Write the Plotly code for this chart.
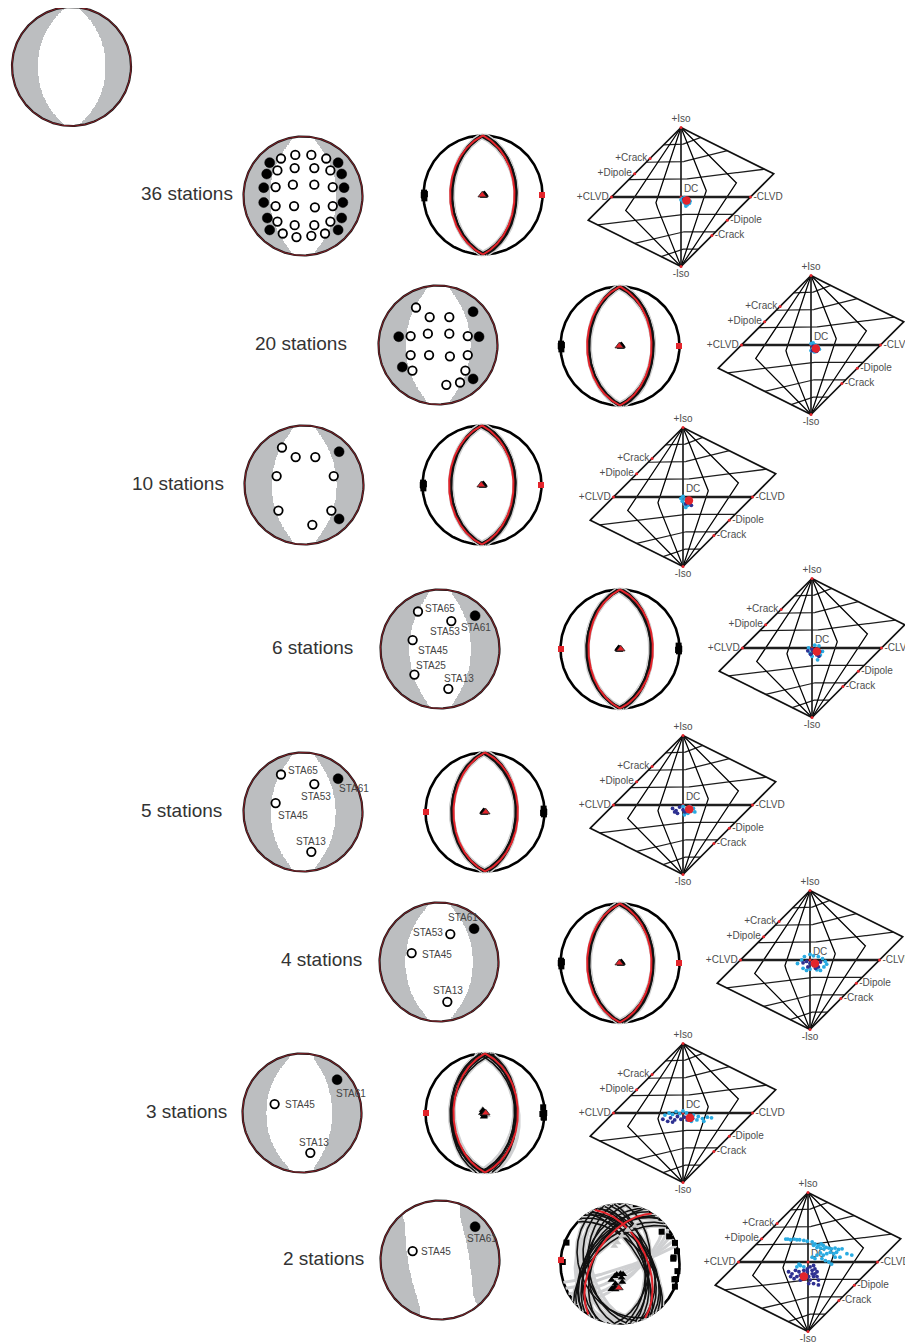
import numpy as np
import plotly.graph_objects as go

W, H = 913, 1344
PAGE = 8  # the page body margin: figure starts 8 px in from the window corner
FW, FH = W - PAGE, H - PAGE

# ---------- stations (equal-area lower hemisphere, unit radius) ----------
STA_NAMES = [
    "STA66", "STA65", "STA64", "STA63", "STA62", "STA61",
    "STA56", "STA55", "STA54", "STA53", "STA52", "STA51",
    "STA46", "STA45", "STA44", "STA43", "STA42", "STA41",
    "STA36", "STA35", "STA34", "STA33", "STA32", "STA31",
    "STA26", "STA25", "STA24", "STA23", "STA22", "STA21",
    "STA16", "STA15", "STA14", "STA13", "STA12", "STA11",
]
STA_X = [
    -0.56, -0.37, -0.13, 0.14, 0.39, 0.59,
    -0.61, -0.43, -0.14, 0.19, 0.46, 0.65,
    -0.66, -0.46, -0.17, 0.19, 0.50, 0.69,
    -0.66, -0.46, -0.15, 0.20, 0.50, 0.67,
    -0.60, -0.43, -0.14, 0.19, 0.46, 0.65,
    -0.56, -0.34, -0.11, 0.14, 0.37, 0.59,
]
STA_Y = [
    0.56, 0.63, 0.69, 0.69, 0.63, 0.56,
    0.37, 0.43, 0.47, 0.47, 0.43, 0.37,
    0.14, 0.15, 0.19, 0.19, 0.15, 0.14,
    -0.11, -0.17, -0.17, -0.19, -0.17, -0.11,
    -0.37, -0.43, -0.49, -0.49, -0.43, -0.37,
    -0.57, -0.63, -0.69, -0.67, -0.63, -0.57,
]
# 1 = compression (filled), 0 = dilatation (open)
STA_POL = [
    1, 0, 0, 0, 0, 1,
    1, 0, 0, 0, 0, 1,
    1, 0, 0, 0, 0, 1,
    1, 0, 0, 0, 0, 1,
    1, 0, 0, 0, 0, 1,
    1, 0, 0, 0, 0, 1,
]

ROW_LABELS = ["36 stations", "20 stations", "10 stations", "6 stations",
              "5 stations", "4 stations", "3 stations", "2 stations"]

ROW_STATIONS = [
    STA_NAMES,
    ["STA65", "STA61", "STA54", "STA53", "STA46", "STA45", "STA44", "STA43", "STA42", "STA41",
     "STA35", "STA34", "STA33", "STA32", "STA26", "STA25", "STA22", "STA11", "STA12", "STA13"],
    ["STA65", "STA54", "STA53", "STA61", "STA45", "STA42", "STA25", "STA22", "STA11", "STA13"],
    ["STA65", "STA53", "STA61", "STA45", "STA25", "STA13"],
    ["STA65", "STA61", "STA53", "STA45", "STA13"],
    ["STA61", "STA53", "STA45", "STA13"],
    ["STA61", "STA45", "STA13"],
    ["STA61", "STA45"],
]

# station-name placement: (anchor, dx px, dy px up)
ROW_NAME_POS = [
    None, None, None,
    {"STA65": ("left", 5, 3), "STA53": ("center", -6, -10), "STA61": ("center", 1, -12),
     "STA45": ("left", 3, -10), "STA25": ("left", 0, 9), "STA13": ("left", -6, 10)},
    {"STA65": ("left", 5, 4), "STA61": ("left", -1, -10), "STA53": ("center", 2, -12),
     "STA45": ("left", 0, -12), "STA13": ("center", 0, 10)},
    {"STA61": ("center", -11, 11), "STA53": ("right", -5, 2), "STA45": ("left", 8, -1),
     "STA13": ("center", 1, 11)},
    {"STA61": ("left", -3, -14), "STA45": ("left", 8, 0), "STA13": ("center", 4, 10)},
    {"STA61": ("center", 7, -12), "STA45": ("left", 6, 0)},
]

# moment tensors (nn, ee, dd, ne, nd, ed) for the shaded beachballs
TRUE_MT = (-0.015, 1.0, -1.19, 0.0, 0.0, 0.0)
ROW_MT = [
    (-0.04, 1.0, -1.10, 0.0, 0.0, 0.0),
    (-0.04, 1.0, -1.00, 0.0, 0.0, 0.0),
    (-0.04, 1.0, -1.00, 0.0, 0.0, 0.0),
    (-0.04, 1.0, -0.85, 0.0, 0.0, 0.0),
    (-0.04, 1.0, -1.00, 0.0, 0.0, 0.0),
    (-0.04, 1.0, -1.15, 0.0, 0.0, 0.0),
    (-0.04, 1.0, -1.06, 0.0, 0.0, 0.16),
    (-0.44, 1.44, -1.23, 0.34, 0.0, 0.10),
]

# focal solutions (strike, dip, rake): red = reference, black = inversions
NODAL_BEST = [(0, 46, -90), (0, 46, -90), (0, 46, -90), (0, 44, -90),
              (0, 44, -90), (0, 46, -90), (0, 44, -90), (335, 53, -133)]
ENS_WEST = [(358, 44, -92), (2, 43, -88), (0, 44.5, -90), (356, 43.5, -91), (3, 44, -89), (1, 42.5, -90)]
ENS_EAST = [(358, 46, -92), (2, 47, -88), (0, 45.5, -90), (356, 46.5, -91), (3, 46, -89), (1, 47.5, -90)]
ENS_3 = [(357, 46, -95), (4, 48, -85), (0, 45.5, -90), (353, 47, -92), (6, 46, -88), (1, 49, -90), (359, 46.5, -97)]
ENS_2 = [(330, 50, -115), (340, 56, -130), (325, 48, -110), (345, 58, -135), (332, 60, -120),
         (350, 52, -138), (320, 52, -105), (338, 46, -125), (355, 55, -120), (315, 58, -100),
         (5, 48, -115), (328, 64, -128)]
NODAL_ENS = [ENS_WEST, ENS_WEST, ENS_WEST, ENS_EAST, ENS_EAST, ENS_WEST, ENS_3, ENS_2]
NODAL_GRAY = [[], [], [], [], [], [], [(350, 43, -95), (8, 49, -84)],
              [(60, 75, -60), (66, 80, -50), (54, 70, -70), (72, 84, -40), (48, 68, -75)]]

# source-type (Hudson u, v) results
HUD_RED_U = [0.08, 0.07, 0.085, 0.07, 0.09, 0.07, 0.10, -0.06]
HUD_RED_V = [-0.05, -0.05, -0.05, -0.05, -0.06, -0.05, -0.07, -0.21]
HUD_CYAN_U = [
    [0.02, 0.05, 0.10, 0.13, 0.06, 0.09, 0.03, 0.12, 0.00, 0.07],
    [0.00, 0.03, 0.06, 0.10, 0.02, 0.05, 0.09, 0.00, 0.12],
    [-0.03, 0.00, 0.03, 0.05, 0.02, 0.07, 0.10, 0.04, 0.08, -0.01],
    [-0.05, 0.10, 0.15, 0.00, 0.08, 0.12, -0.03, 0.04],
    [0.00, 0.05, 0.10, 0.12, 0.07, 0.15, 0.02, 0.17],
    [-0.18, -0.12, -0.08, 0.00, 0.05, 0.12, 0.18, 0.22, 0.20, 0.10, 0.00, -0.10, -0.05, 0.15, 0.24],
    [-0.26, -0.20, -0.15, -0.10, -0.05, 0.00, 0.05, 0.15, 0.22, 0.28, 0.35, 0.41, 0.30, 0.20, 0.12],
    [-0.32, -0.29, -0.25, -0.20, -0.16, -0.12, -0.06, -0.01, 0.06, 0.10, 0.15, 0.19, 0.22, 0.26,
     0.23, 0.18, 0.13, 0.08, 0.30, 0.34, 0.39, 0.44, 0.49, 0.41, 0.37, 0.32, 0.27, 0.22, 0.18,
     0.13, 0.20, 0.25, 0.30, 0.34, 0.39, 0.46, 0.56, 0.63, 0.10, 0.06, -0.13, -0.11, -0.06, -0.16],
]
HUD_CYAN_V = [
    [-0.02, -0.01, -0.03, -0.06, -0.09, -0.11, -0.07, -0.09, -0.04, -0.13],
    [0.02, 0.03, 0.00, -0.02, -0.05, -0.10, -0.08, -0.08, -0.06],
    [-0.02, 0.01, -0.03, -0.08, -0.10, -0.12, -0.10, -0.15, -0.04, -0.06],
    [0.00, 0.03, -0.05, -0.12, -0.17, -0.10, -0.07, 0.04],
    [-0.02, -0.05, -0.02, -0.09, -0.12, -0.05, -0.14, -0.10],
    [-0.05, 0.00, 0.05, 0.08, 0.06, 0.05, 0.02, -0.02, -0.10, -0.14, -0.13, -0.12, -0.15, -0.15, -0.06],
    [-0.03, 0.00, -0.02, 0.02, -0.01, 0.03, 0.00, -0.03, -0.05, -0.08, -0.06, -0.07, -0.12, -0.10, -0.12],
    [0.33, 0.33, 0.32, 0.33, 0.32, 0.32, 0.31, 0.30, 0.29, 0.26, 0.24, 0.26, 0.24, 0.21,
     0.19, 0.20, 0.21, 0.24, 0.20, 0.19, 0.20, 0.18, 0.19, 0.14, 0.12, 0.14, 0.12, 0.10, 0.13,
     0.10, 0.05, 0.02, 0.00, -0.03, 0.07, 0.07, 0.12, 0.10, 0.05, 0.07, -0.03, -0.05, -0.07, -0.07],
]
HUD_NAVY_U = [
    [0.04, 0.08, 0.06, 0.10],
    [0.03, 0.06, 0.02, 0.08, 0.04],
    [0.06, 0.10, 0.12, 0.04],
    [-0.06, 0.00, 0.03, 0.07, 0.11, -0.02, 0.05, 0.10],
    [-0.15, -0.10, -0.05, -0.08, 0.00, 0.03, -0.12],
    [-0.10, -0.05, 0.00, 0.05, 0.10, 0.15, -0.03, 0.08, 0.12],
    [-0.29, -0.22, -0.18, -0.12, -0.08, -0.03, 0.02, 0.06, 0.10, 0.14, -0.15],
    [-0.28, -0.23, -0.18, -0.13, -0.11, -0.06, -0.01, 0.03, 0.08, 0.10, 0.13, 0.06, 0.01, -0.04,
     0.08, 0.13, 0.15, 0.03, 0.01, 0.08, 0.15, -0.16, -0.20, -0.11, -0.25, -0.06, -0.01, 0.10, 0.06],
]
HUD_NAVY_V = [
    [-0.03, -0.02, -0.06, -0.07],
    [-0.02, -0.04, -0.08, -0.09, -0.06],
    [-0.06, -0.08, -0.12, -0.10],
    [-0.04, -0.02, -0.06, -0.10, -0.05, -0.09, -0.02, -0.12],
    [-0.05, -0.08, -0.03, -0.12, -0.07, -0.10, -0.10],
    [-0.04, -0.02, -0.05, -0.08, -0.06, -0.03, -0.10, -0.12, -0.10],
    [-0.09, -0.12, -0.07, -0.10, -0.05, -0.09, -0.06, -0.10, -0.04, -0.08, -0.13],
    [-0.14, -0.17, -0.12, -0.14, -0.19, -0.12, -0.10, -0.07, -0.05, -0.10, -0.14, -0.17, -0.21, -0.21,
     -0.21, -0.21, -0.26, -0.26, -0.31, -0.31, -0.33, -0.21, -0.24, -0.26, -0.21, -0.17, -0.14, -0.17, -0.12],
]

HUD_LABELS = ["+Iso", "-Iso", "+CLVD", "-CLVD", "+Crack", "-Crack", "+Dipole", "-Dipole", "DC"]
HUD_LABEL_U = [0, 0, -1, 1, -4 / 9, 4 / 9, -2 / 3, 2 / 3, 0]
HUD_LABEL_V = [1, -1, 0, 0, 5 / 9, -5 / 9, 1 / 3, -1 / 3, 0]
HUD_LABEL_POS = ["top center", "bottom center", "middle left", "middle right", "middle left",
                 "middle right", "middle left", "middle right", "top right"]
HUD_T_LINES = [-2 / 3, -1 / 3, 1 / 3, 2 / 3]
HUD_K_LINES = [-0.75, -0.5, -0.25, 0.25, 0.5, 0.75]

# ---------- layout (pixel centres in the window) ----------
TRUE_X, TRUE_Y = 71.5, 66.5
ROW_BALL_X = [303, 438, 304, 440, 303, 439, 302, 440]
ROW_BALL_Y = [196, 345, 485, 649, 812, 962, 1113, 1260]
ROW_NODAL_X = [483, 620, 482, 620, 485, 620, 485, 620]
ROW_NODAL_Y = [195, 346, 485, 649, 812, 963, 1113, 1264]
ROW_HUD_X = [681, 811, 683, 812, 683, 810, 683, 808]
ROW_HUD_Y = [197, 345, 497, 648, 805, 960, 1113, 1262]
ROW_LABEL_X = [235, 349, 226, 355, 224, 364, 229, 366]

BALL_R = 59.5
HUD_S = 69.5
GRAY = "#bcbec0"
RED = "#e3242b"
CYAN = "#29abe2"
NAVY = "#2e3192"
LBL = "#4d4d4d"
FONT = "Liberation Sans Narrow, Liberation Sans, Arial"

fig = go.Figure()
_n = [0]


def panel(cx, cy, scale, half_w, half_h):
    _n[0] += 1
    sfx = "" if _n[0] == 1 else str(_n[0])
    cx, cy = cx - PAGE, cy - PAGE
    left, right = max(cx - half_w, 0), min(cx + half_w, FW)
    top, bottom = max(cy - half_h, 0), min(cy + half_h, FH)
    fig.update_layout(**{
        f"xaxis{sfx}": dict(domain=[left / FW, right / FW],
                            range=[(left - cx) / scale, (right - cx) / scale],
                            visible=False, fixedrange=True, anchor=f"y{sfx}"),
        f"yaxis{sfx}": dict(domain=[1 - bottom / FH, 1 - top / FH],
                            range=[(cy - bottom) / scale, (cy - top) / scale],
                            visible=False, fixedrange=True, anchor=f"x{sfx}"),
    })
    return dict(xaxis=f"x{sfx}", yaxis=f"y{sfx}")


def line(ax, xs, ys, color, width):
    fig.add_trace(go.Scatter(x=xs, y=ys, mode="lines", line=dict(color=color, width=width),
                             hoverinfo="skip", **ax))


# ---------- geometry ----------
TH = np.linspace(0, 2 * np.pi, 241)
CIRC_X, CIRC_Y = np.cos(TH), np.sin(TH)
GRID = np.linspace(-1, 1, 201)


def project(v):
    v = v * np.where(v[2] < 0, -1.0, 1.0)
    inc = np.arccos(np.clip(v[2], -1, 1))
    r = np.sqrt(2) * np.sin(inc / 2)
    az = np.arctan2(v[1], v[0])
    return r * np.sin(az), r * np.cos(az)


def sdr_vectors(strike, dip, rake):
    s, d, r = np.radians([strike, dip, rake])
    n = np.array([-np.sin(d) * np.sin(s), np.sin(d) * np.cos(s), -np.cos(d)])
    u = np.array([np.cos(r) * np.cos(s) + np.sin(r) * np.cos(d) * np.sin(s),
                  np.cos(r) * np.sin(s) - np.sin(r) * np.cos(d) * np.cos(s),
                  -np.sin(r) * np.sin(d)])
    return n, u


def great_circle(normal):
    a = np.array([-normal[1], normal[0], 0.0])
    a /= np.linalg.norm(a)
    b = np.cross(normal, a)
    b /= np.linalg.norm(b)
    if b[2] < 0:
        b = -b
    t = np.linspace(0, np.pi, 121)
    v = np.outer(a, np.cos(t)) + np.outer(b, np.sin(t))
    return project(v)


def planes_xy(sols):
    xs, ys = [], []
    for s, d, r in sols:
        n, u = sdr_vectors(s, d, r)
        for vec in (n, u):
            x, y = great_circle(vec)
            xs += x.tolist() + [None]
            ys += y.tolist() + [None]
    return xs, ys


def axes_xy(sols):
    px, py, tx, ty = [], [], [], []
    for s, d, r in sols:
        n, u = sdr_vectors(s, d, r)
        x, y = project(((n - u) / np.sqrt(2)).reshape(3, 1))
        px.append(float(x[0])); py.append(float(y[0]))
        x, y = project(((n + u) / np.sqrt(2)).reshape(3, 1))
        tx.append(float(x[0])); ty.append(float(y[0]))
    return px, py, tx, ty


def polarity_z(mt):
    mnn, mee, mdd, mne, mnd, med = mt
    X, Y = np.meshgrid(GRID, GRID)
    R = np.hypot(X, Y)
    inc = 2 * np.arcsin(np.clip(R / np.sqrt(2), 0, 1))
    az = np.arctan2(X, Y)
    vn, ve, vd = np.sin(inc) * np.cos(az), np.sin(inc) * np.sin(az), np.cos(inc)
    amp = (mnn * vn * vn + mee * ve * ve + mdd * vd * vd
           + 2 * (mne * vn * ve + mnd * vn * vd + med * ve * vd))
    ok = (R <= 1.0) & (amp > 0)
    return [[1 if ok[j, i] else None for i in range(len(GRID))] for j in range(len(GRID))]


def shaded_ball(ax, mt):
    fig.add_trace(go.Heatmap(x=GRID, y=GRID, z=polarity_z(mt), colorscale=[[0, GRAY], [1, GRAY]],
                             showscale=False, hoverinfo="skip", zsmooth=False, **ax))
    line(ax, CIRC_X, CIRC_Y, "#1a1a1a", 2.2)
    line(ax, CIRC_X, CIRC_Y, "#b3202a", 0.7)


def hudson_uv(T, k):
    tau = T * (1 - abs(k))
    if tau * k <= 0:
        return tau, k
    s = 1.0 if k > 0 else -1.0
    t, kk = s * tau, s * k
    d = 1 - t / 2 if t <= 4 * kk else 1 - 2 * kk
    return s * t / d, s * kk / d


def t_line(T):
    pts = [hudson_uv(T, k) for k in np.linspace(-1, 1, 401)]
    return [p[0] for p in pts], [p[1] for p in pts]


def k_line(k):
    pts = [hudson_uv(T, k) for T in np.linspace(-1, 1, 201)]
    return [p[0] for p in pts], [p[1] for p in pts]


# ---------- top-left reference mechanism ----------
shaded_ball(panel(TRUE_X, TRUE_Y, BALL_R, 70, 70), TRUE_MT)

for row in range(len(ROW_LABELS)):
    # --- polarity ball ---
    ax = panel(ROW_BALL_X[row], ROW_BALL_Y[row], BALL_R, 78, 72)
    shaded_ball(ax, ROW_MT[row])
    names = ROW_STATIONS[row]
    pos = ROW_NAME_POS[row]
    for pol in (0, 1):
        sel = [STA_NAMES.index(nm) for nm in names if STA_POL[STA_NAMES.index(nm)] == pol]
        fig.add_trace(go.Scatter(
            x=[STA_X[i] for i in sel], y=[STA_Y[i] for i in sel], mode="markers",
            marker=dict(symbol="circle", size=8.5 if pol == 0 else 10,
                        color="white" if pol == 0 else "black",
                        line=dict(color="black", width=1.8 if pol == 0 else 0.5)),
            cliponaxis=False, hoverinfo="skip", **ax))
    if pos:
        for nm in names:
            i = STA_NAMES.index(nm)
            anchor, dx, dy = pos[nm]
            fig.add_annotation(text=nm, x=STA_X[i], y=STA_Y[i], xref=ax["xaxis"], yref=ax["yaxis"],
                               xanchor=anchor, yanchor="middle", xshift=dx, yshift=dy, showarrow=False,
                               font=dict(family=FONT, size=10, color="#444444"))

    # --- nodal-plane ball ---
    ax = panel(ROW_NODAL_X[row], ROW_NODAL_Y[row], BALL_R, 70, 70)
    line(ax, CIRC_X, CIRC_Y, "black", 2.6)
    gx, gy = planes_xy(NODAL_GRAY[row])
    if gx:
        line(ax, gx, gy, "#cfd0d2", 3)
    ex, ey = planes_xy(NODAL_ENS[row])
    line(ax, ex, ey, "#cfcfcf", 4.5)
    line(ax, ex, ey, "#111111", 1.6)
    bx, by = planes_xy([NODAL_BEST[row]])
    line(ax, bx, by, RED, 2.0)
    px, py, tx, ty = axes_xy(NODAL_GRAY[row])
    if px:
        fig.add_trace(go.Scatter(x=px, y=py, mode="markers",
                                 marker=dict(symbol="triangle-up", size=7, color="#c8c8c8"),
                                 hoverinfo="skip", cliponaxis=False, **ax))
    px, py, tx, ty = axes_xy(NODAL_ENS[row])
    fig.add_trace(go.Scatter(x=px, y=py, mode="markers", marker=dict(symbol="triangle-up", size=7, color="black"),
                             hoverinfo="skip", cliponaxis=False, **ax))
    fig.add_trace(go.Scatter(x=tx, y=ty, mode="markers", marker=dict(symbol="square", size=6, color="black"),
                             hoverinfo="skip", cliponaxis=False, **ax))
    px, py, tx, ty = axes_xy([NODAL_BEST[row]])
    fig.add_trace(go.Scatter(x=px, y=py, mode="markers",
                             marker=dict(symbol="triangle-up", size=7.5, color=RED, line=dict(color="#222", width=0.8)),
                             hoverinfo="skip", cliponaxis=False, **ax))
    fig.add_trace(go.Scatter(x=tx, y=ty, mode="markers", marker=dict(symbol="square", size=6, color=RED),
                             hoverinfo="skip", cliponaxis=False, **ax))

    # --- source-type (Hudson) plot ---
    ax = panel(ROW_HUD_X[row], ROW_HUD_Y[row], HUD_S, 140, 86)
    for k in HUD_K_LINES:
        x, y = k_line(k)
        line(ax, x, y, "#1e1e1e", 1.25)
    for T in HUD_T_LINES:
        x, y = t_line(T)
        line(ax, x, y, "black", 1.25)
    x, y = k_line(0.0)
    line(ax, x, y, "#1e1e1e", 2.3)
    x, y = t_line(0.0)
    line(ax, x, y, "#1e1e1e", 1.7)
    for T in (-1.0, 1.0):
        x, y = t_line(T)
        line(ax, x, y, "#111111", 1.7)
    fig.add_trace(go.Scatter(
        x=HUD_LABEL_U, y=HUD_LABEL_V, mode="markers+text", text=HUD_LABELS,
        textposition=HUD_LABEL_POS,
        textfont=dict(family=FONT, size=10, color=LBL),
        marker=dict(size=3, color=RED), hoverinfo="skip", cliponaxis=False, **ax))
    fig.add_trace(go.Scatter(x=HUD_CYAN_U[row], y=HUD_CYAN_V[row], mode="markers",
                             marker=dict(size=3.8, color=CYAN), hoverinfo="skip", **ax))
    fig.add_trace(go.Scatter(x=HUD_NAVY_U[row], y=HUD_NAVY_V[row], mode="markers",
                             marker=dict(size=3.8, color=NAVY), hoverinfo="skip", **ax))
    fig.add_trace(go.Scatter(x=[HUD_RED_U[row]], y=[HUD_RED_V[row]], mode="markers",
                             marker=dict(size=8.5, color=RED), hoverinfo="skip", **ax))

    # --- row label ---
    fig.add_annotation(text=ROW_LABELS[row], x=(ROW_LABEL_X[row] - PAGE) / FW,
                       y=1 - (ROW_BALL_Y[row] - 2 - PAGE) / FH,
                       xref="paper", yref="paper", xanchor="right", yanchor="middle", showarrow=False,
                       font=dict(family="Liberation Sans, Arial", size=19, color="#333333"))

fig.update_layout(
    width=FW, height=FH,
    margin=dict(l=0, r=0, t=0, b=0),
    paper_bgcolor="white",
    plot_bgcolor="rgba(0,0,0,0)",
    showlegend=False,
    hovermode=False,
)

fig.write_html("out.html")
